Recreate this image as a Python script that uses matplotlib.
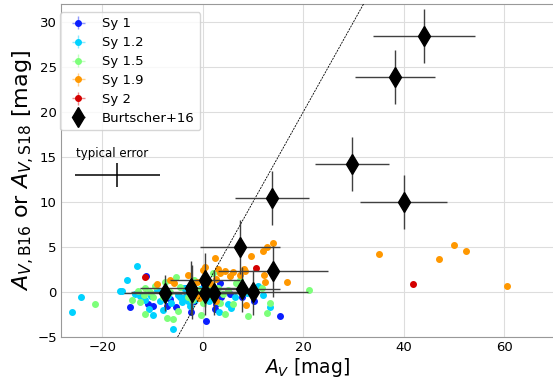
import numpy as np
import matplotlib
matplotlib.use("Agg")
import matplotlib.pyplot as plt

# Seyfert samples (A_V from this work vs. A_V from S18)
sy1_x = [-14.4, -11.2, -10.9, -9.9, -7.2, -5.4, -2.3, 0.7, 2.6, 3.6, 3.4, 7.8, 10.2, 15.3,
         -0.9, 2.4, -3.5, 1.5, -6.5, 5.5, -1.8, 0.2]
sy1_y = [-1.7, 1.8, -1.3, -1.6, -1.6, -1.7, -2.2, -3.2, -1.3, -0.6, 1.0, -0.5, -1.0, -2.7,
         -0.7, -1.9, 0.4, 0.3, -0.8, -0.2, -1.0, 0.8]

sy12_x = [-26.1, -24.2, -16.5, -16.1, -15.1, -13.1, -12.5, -10.7, -9.9, -7.9, -5.9, -9.0,
          -5.0, -4.5, -4.0, -3.5, -3.0, -4.2, -3.2, -8.5, -7.0, -6.3, -10.3, -2.0, -1.5,
          0.5, 1.2, 5.0, 5.6, 3.2, 11.0, 13.3, 12.0, -3.7, -2.6, -8.0, -11.5, -13.5, 6.5,
          8.8, -0.5, 2.0]
sy12_y = [-2.2, -0.55, 0.1, 0.1, 1.3, 2.85, -0.45, -1.9, -2.6, -2.0, -4.1, 0.2,
          -0.3, -0.6, -0.8, -0.5, -1.0, -1.1, -0.2, -1.0, -0.4, -1.2, -0.4, -0.5, -0.9,
          -0.5, -1.0, -1.3, -1.8, -2.2, 0.7, -1.7, -0.3, 0.5, -1.5, -0.1, -0.9, -0.2, -0.6,
          -0.1, 0.3, 0.6]

sy15_x = [-21.4, -12.8, -11.5, -12.4, -11.5, -11.7, -9.5, -8.0, -7.2, -5.4, -6.5, -4.5,
          -3.0, -2.2, -1.0, 0.1, -0.3, 1.6, 2.1, 3.0, 4.5, 6.6, 7.5, 8.0, 9.0, 10.5, 11.8,
          13.3, 12.8, 21.1, 4.0, 5.0, -9.8, -14.0, -10.5, -1.8, 1.0, 6.0, 3.5, -7.5, -5.0,
          -6.0]
sy15_y = [-1.3, 0.1, 0.5, -1.1, -2.4, -0.3, 0.7, -0.5, -2.9, 1.7, 0.0, 0.6,
          -0.5, -0.9, 0.2, -1.2, -2.5, -0.3, 2.1, 0.5, -2.4, 1.0, 1.3, 0.0, -2.7, 0.2, 0.5,
          -1.2, -2.3, 0.2, -0.2, 0.2, -0.6, -0.9, 0.0, 1.3, 0.7, -1.3, -1.2, 1.1, -2.1,
          -3.0]

sy19_x = [-9.1, -6.6, -5.8, -2.9, 0.1, 0.4, -1.1, -0.7, 2.5, 9.6, 12.0, 12.8, 12.2, 12.3,
          3.1, 4.4, 3.4, 2.7, 7.4, 8.3, 8.5, 0.5, 2.6, 8.7, 14.0, 16.8, 35.0, 47.1, 50.1,
          52.3, 60.5, 1.5, 5.5, -1.1, 1.2, 2.5, 6.0, 2.0]
sy19_y = [0.9, 1.3, 1.0, 1.9, 2.4, 1.3, -0.3, -0.7, 3.8, 4.0, 4.6, 5.0, 1.85, 1.1,
          2.6, 2.3, 2.1, 1.5, 1.9, 2.6, 2.3, 2.8, -1.0, -1.4, 5.5, 1.15, 4.2, 3.7, 5.2,
          4.6, 0.7, 1.0, 1.8, 1.1, 0.1, -0.3, 2.2, 0.3]

sy2_x = [-11.4, 10.7, 41.9]
sy2_y = [1.67, 2.7, 0.85]

# Burtscher+16 interferometric sample
b16_x = [44.0, 38.3, 29.7, 40.0, 13.8, 7.4, 14.0, 0.5, 7.9, 10.0, -2.4, -2.2, 0.5, 2.2, -7.6]
b16_y = [28.4, 23.9, 14.2, 10.0, 10.5, 5.0, 2.3, 1.3, 0.3, 0.0, 0.5, 0.0, -0.1, -0.1, -0.1]
b16_xerr = [10.2, 8.0, 7.3, 8.7, 7.3, 8.0, 11.0, 7.0, 7.5, 11.0, 10.0, 12.0, 8.0, 8.0, 8.0]
b16_yerr = [3.0, 3.0, 3.0, 3.0, 3.0, 3.0, 2.8, 3.0, 2.5, 2.5, 3.0, 3.0, 2.5, 2.5, 2.0]

# typical error bar
typ_x, typ_y = -17.0, 13.0
typ_xerr, typ_yerr = 8.4, 1.3

groups = [
    ("Sy 1", sy1_x, sy1_y, "#0a1eff"),
    ("Sy 1.2", sy12_x, sy12_y, "#00d2ff"),
    ("Sy 1.5", sy15_x, sy15_y, "#7dff7a"),
    ("Sy 1.9", sy19_x, sy19_y, "#ff9800"),
    ("Sy 2", sy2_x, sy2_y, "#d40000"),
]

fig = plt.figure(figsize=(5.53, 3.79), dpi=100)
ax = fig.add_axes([61 / 553, 42 / 379, 492 / 553, 333 / 379])

for label, x, y, c in groups:
    rgba = matplotlib.colors.to_rgba(c)
    ax.errorbar(x, y, xerr=np.zeros(len(x)), yerr=np.zeros(len(y)), fmt="o", ms=4.0,
                color=c, ecolor=(rgba[0], rgba[1], rgba[2], 0.45), elinewidth=1,
                label=label, zorder=2)

ax.errorbar(b16_x, b16_y, xerr=b16_xerr, yerr=b16_yerr, fmt="d", ms=10, color="k",
            ecolor="#404040", elinewidth=1, label="Burtscher+16", zorder=4)

ax.errorbar(typ_x, typ_y, xerr=typ_xerr, yerr=typ_yerr, fmt="none", ecolor="k",
            elinewidth=1.1, zorder=3)
ax.text(-25.2, 15.4, "typical error", fontsize=8.5, va="center", ha="left")

ax.axline((0, 0), slope=1, color="k", lw=0.6, ls=(0, (2.5, 1.2)), zorder=3)

ax.set_xlim(-28.2, 69.7)
ax.set_ylim(-5, 32)
ax.set_xticks([-20, 0, 20, 40, 60])
ax.set_yticks([-5, 0, 5, 10, 15, 20, 25, 30])
ax.tick_params(labelsize=9.5, length=0, pad=3)
ax.grid(True, color="#dddddd", lw=0.8)
ax.set_axisbelow(True)
for s in ["left", "bottom", "top"]:
    ax.spines[s].set_color("#999999")
ax.spines["right"].set_visible(False)

ax.set_xlabel(r"$A_V$ [mag]", fontsize=13.5, labelpad=1)
ax.set_ylabel(r"$A_{V,\rm B16}$ or $A_{V,\rm S18}$ [mag]", fontsize=16, labelpad=0)

ax.legend(loc="upper left", bbox_to_anchor=(-0.002, 0.976), borderaxespad=0,
          fontsize=9.5, handlelength=2.0, labelspacing=0.45)

fig.savefig("out.png", dpi=100)
